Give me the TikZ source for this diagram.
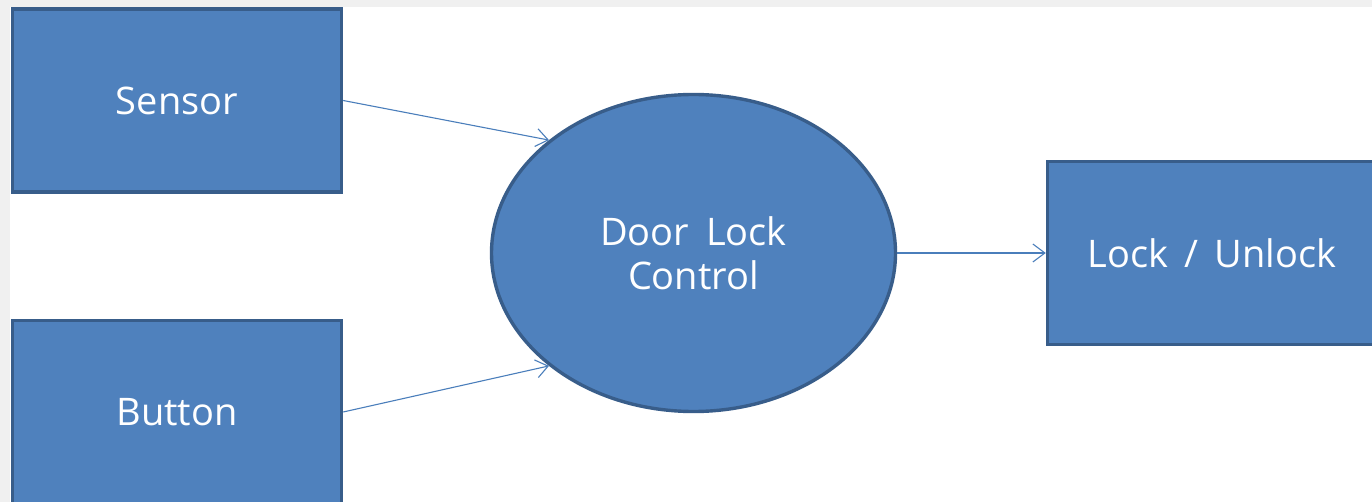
\documentclass[tikz,border=0pt]{standalone}
\usepackage{fontspec}
\setmainfont{Open Sans}
\usetikzlibrary{shapes.geometric,arrows.meta}
\definecolor{boxfill}{HTML}{4F81BD}
\definecolor{boxline}{HTML}{385D8A}
\definecolor{wirecol}{HTML}{4A7EBB}
\definecolor{pagegray}{HTML}{F0F0F0}
\begin{document}
\begin{tikzpicture}[x=1pt,y=-1pt,
  blockbox/.style={rectangle, draw=boxline, fill=boxfill, line width=3.4pt,
    text=white, minimum width=329pt, minimum height=183pt, inner sep=0pt,
    font=\fontsize{38}{44}\selectfont},
  procnode/.style={ellipse, draw=boxline, fill=boxfill, line width=3.4pt,
    text=white, minimum width=404pt, minimum height=317pt, inner sep=0pt,
    align=center, font=\fontsize{38}{44}\selectfont},
  flow/.style={draw=wirecol, line width=1.1pt,
    -{Straight Barb[length=12pt,width=18pt,line width=1.1pt]}}]
\useasboundingbox (0,0) rectangle (1372,502);
\clip (0,0) rectangle (1372,502);
% page background with its grey margin
\fill[pagegray] (0,0) rectangle (1372,502);
\fill[white] (10,7) rectangle (1372,502);
% blocks
\node[blockbox] (sensor) at (177,100.5) {Sensor};
\node[blockbox] (button) at (177,412) {Button};
\node[procnode] (ctrl) at (693.5,253) {Door\hspace{0.45em}Lock\\Control};
\node[blockbox] (lock) at (1212,253) {Lock\hspace{0.42em}/\hspace{0.42em}Unlock};
% flows
\draw[flow] (sensor.east) -- (ctrl.142.8);
\draw[flow] (button.east) -- (ctrl.218);
\draw[flow] (ctrl.east) -- (lock.west);
\end{tikzpicture}
\end{document}
